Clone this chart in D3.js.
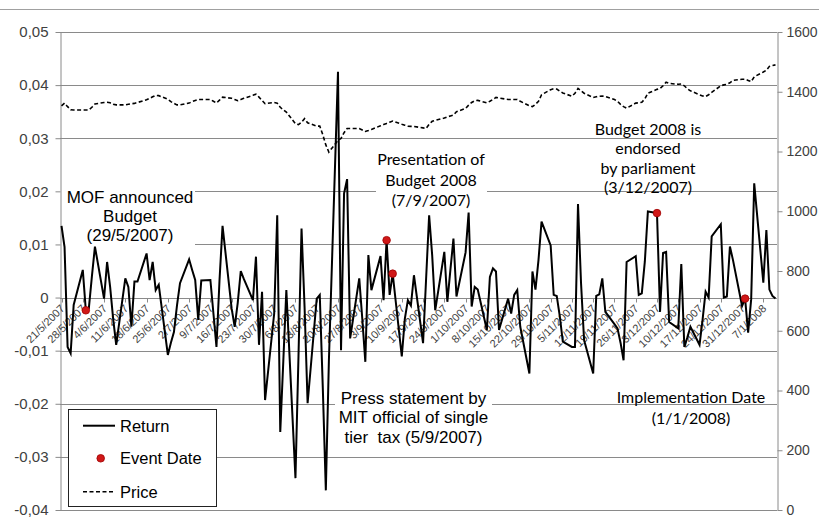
<!DOCTYPE html>
<html><head><meta charset="utf-8">
<script src="https://cdn.jsdelivr.net/npm/d3@7"></script>
<style>body{margin:0;background:#fff}svg{display:block}</style>
</head><body><svg id="c" width="819" height="521"></svg>
<script>
const weekLabels = ["21/5/2007","28/5/2007","4/6/2007","11/6/2007","18/6/2007","25/6/2007","2/7/2007","9/7/2007","16/7/2007","23/7/2007","30/7/2007","6/8/2007","13/8/2007","20/8/2007","27/8/2007","3/9/2007","10/9/2007","17/9/2007","24/9/2007","1/10/2007","8/10/2007","15/10/2007","22/10/2007","29/10/2007","5/11/2007","12/11/2007","19/11/2007","26/11/2007","3/12/2007","10/12/2007","17/12/2007","24/12/2007","31/12/2007","7/1/2008"];

const returns = [
 0.0135, 0.0095,-0.0093,-0.0105,-0.0014,
 0.0052,-0.0024,-0.0020, 0.0040, 0.0096,
-0.0002, 0.0067, 0.0020,-0.0040,-0.0089,
 0.0036, 0.0020,-0.0055, 0.0030, 0.0030,
 0.0083, 0.0033, 0.0067, 0.0014, 0.0024,
-0.0108,-0.0085,-0.0065,-0.0015, 0.0027,
 0.0072, 0.0052, 0.0033,-0.0042, 0.0032,
 0.0033,-0.0030,-0.0093, 0.0032, 0.0135,
-0.0021,-0.0055,-0.0010, 0.0050, 0.0035,
-0.0005, 0.0077,-0.0089, 0.0011,-0.0193,
-0.0030, 0.0155,-0.0253,-0.0120, 0.0014,
-0.0340,-0.0110, 0.0130,-0.0018,-0.0199,
-0.0002, 0.0005,-0.0170,-0.0363,-0.0120,
 0.0425,-0.0099, 0.0196, 0.0223,-0.0077,
 0.0036,-0.0040,-0.0121, 0.0080, 0.0014,
 0.0078,-0.0005, 0.0108, 0.0005, 0.0045,
-0.0111,-0.0040,-0.0005,-0.0015, 0.0042,
-0.0086, 0.0035, 0.0155, 0.0080,-0.0024,
 0.0086,-0.0008, 0.0052, 0.0111, 0.0002,
 0.0085, 0.0160,-0.0017, 0.0020, 0.0015,
-0.0061, 0.0039, 0.0055, 0.0049,-0.0061,
-0.0002,-0.0030, 0.0005, 0.0014,-0.0055,
-0.0143, 0.0049, 0.0015, 0.0071, 0.0143,
 0.0098, 0.0005, 0.0003,-0.0035,-0.0083,
-0.0093,-0.0093, 0.0176, 0.0027,-0.0080,
-0.0143, 0.0003, 0.0006, 0.0036,-0.0027,
-0.0050,-0.0058,-0.0085,-0.0118, 0.0067,
 0.0078, 0.0005, 0.0008, 0.0068, 0.0162,
 0.0159,-0.0027, 0.0084, 0.0086,-0.0046,
-0.0058, 0.0063,-0.0093,-0.0075,-0.0055,
-0.0089,-0.0042, 0.0011, 0.0000, 0.0115,
 0.0138, 0.0000, 0.0002, 0.0096, 0.0071,
-0.0016,-0.0002,-0.0066,-0.0003, 0.0215,
 0.0028, 0.0127, 0.0015, 0.0003,-0.0002];

const prices = [
1353,1362,1350,1340,1339, 1339,1339,1339,1348,1359, 1364,1365,1363,1358,1356,
1356,1358,1360,1361,1364, 1373,1378,1383,1388,1387, 1375,1367,1361,1356,1356,
1362,1367,1371,1374,1374, 1374,1368,1362,1372,1382, 1378,1374,1370,1374,1378,
1388,1392,1382,1371,1360, 1364,1362,1348,1340,1332, 1293,1290,1298,1310,1296,
1285,1285,1256,1222,1198, 1237,1244,1263,1277,1277, 1277,1272,1267,1270,1274,
1286,1290,1294,1298,1302, 1291,1288,1285,1284,1284, 1279,1277,1291,1301,1304,
1312,1316,1319,1322,1333, 1344,1355,1364,1370,1371, 1363,1368,1374,1381,1379,
1374,1374,1374,1374,1368, 1353,1350,1358,1368,1390, 1407,1410,1409,1402,1396,
1385,1395,1411,1403,1395, 1381,1383,1385,1386,1384, 1374,1368,1358,1350,1345,
1362,1363,1365,1376,1395, 1408,1411,1420,1432,1428, 1425,1426,1420,1410,1403,
1390,1386,1384,1390,1398, 1420,1423,1425,1430,1438, 1442,1442,1438,1434,1450,
1466,1472,1485,1488,1490];

const eventDates = ["29/5/2007","5/9/2007","7/9/2007","3/12/2007","1/1/2008"];
const leftTicks = [0.05,0.04,0.03,0.02,0.01,0,-0.01,-0.02,-0.03,-0.04];
const rightTicks = [0,200,400,600,800,1000,1200,1400,1600];

const parse = d3.utcParse("%d/%m/%Y");
const fmt = d3.utcFormat("%-d/%-m/%Y");
const mondays = weekLabels.map(parse);
const days = mondays.flatMap(m => d3.range(5).map(k => d3.utcDay.offset(m, k)));
const data = days.map((d, i) => ({date: d, ret: returns[i], price: prices[i]}));
const byKey = new Map(data.map(d => [fmt(d.date), d]));
const events = eventDates.map(s => byKey.get(s)).filter(Boolean);

const X0 = 60, X1 = 777, Y0 = 32, Y1 = 510;
const x = d3.scaleUtc()
  .domain([d3.utcHour.offset(days[0], -12), d3.utcHour.offset(days[days.length-1], 12)])
  .range([X0, X1]);
const yL = d3.scaleLinear().domain([-0.04, 0.05]).range([Y1, Y0]);
const yR = d3.scaleLinear().domain([0, 1600]).range([Y1, Y0]);

const svg = d3.select("#c");
const GRID = "#8a8a8a", TXT = "#404040";
const FONT = "'Liberation Sans', Arial, sans-serif", CAL = "Lato, Carlito, sans-serif";

// outer border top
svg.append("line").attr("x1",0).attr("x2",819).attr("y1",9.5).attr("y2",9.5).attr("stroke","#a0a0a0");

// gridlines
svg.append("g").selectAll("line").data(leftTicks).join("line")
  .attr("x1", X0).attr("x2", X1)
  .attr("y1", d => Math.round(yL(d)) + 0.5).attr("y2", d => Math.round(yL(d)) + 0.5)
  .attr("stroke", GRID).attr("stroke-width", 1);

// annotation background boxes
const boxes = [[60,183,135,67],[376,146,111,66],[335,385,157,65]];
svg.append("g").selectAll("rect").data(boxes).join("rect")
  .attr("x", d=>d[0]).attr("y", d=>d[1]).attr("width", d=>d[2]).attr("height", d=>d[3]).attr("fill","#fff");

// left axis
const fmtL = d => d === 0 ? "0" : (d < 0 ? "-" : "") + Math.abs(d).toFixed(2).replace(".", ",");
const gL = svg.append("g").attr("transform", `translate(${X0+0.5},0)`)
  .call(d3.axisLeft(yL).tickValues(leftTicks).tickFormat(fmtL).tickSize(5).tickSizeOuter(0).tickPadding(7));
// right axis
const gR = svg.append("g").attr("transform", `translate(${X1+0.5},0)`)
  .call(d3.axisRight(yR).tickValues(rightTicks).tickFormat(d3.format("d")).tickSize(5).tickSizeOuter(0).tickPadding(4));
[gL, gR].forEach(g => {
  g.select(".domain").attr("stroke", GRID);
  g.selectAll(".tick line").attr("stroke", GRID);
  g.selectAll(".tick text").attr("fill", TXT).style("font-family", FONT);
});
gL.selectAll(".tick text").style("font-size", "15px");
gR.selectAll(".tick text").style("font-size", "14px");

// category axis at zero
const yZero = Math.round(yL(0)) + 0.5;
const gX = svg.append("g");
gX.append("line").attr("x1", X0).attr("x2", X1).attr("y1", yZero).attr("y2", yZero).attr("stroke", GRID);
gX.selectAll("line.tk").data(mondays).join("line").attr("class","tk")
  .attr("x1", d => Math.round(x(d))+0.5).attr("x2", d => Math.round(x(d))+0.5)
  .attr("y1", yZero).attr("y2", yZero + 4).attr("stroke", GRID);
gX.selectAll("text").data(mondays).join("text")
  .attr("transform", d => `translate(${x(d)+1},${yZero+8}) rotate(-45)`)
  .attr("text-anchor", "end").attr("dy", "0.35em")
  .attr("fill", TXT).style("font-family", FONT).style("font-size", "11px")
  .text(d => fmt(d));

// price line
svg.append("path").datum(data)
  .attr("d", d3.line().x(d => x(d.date)).y(d => yR(d.price)))
  .attr("fill","none").attr("stroke","#000").attr("stroke-width",1.6).attr("stroke-dasharray","4,2.5");
// return line
svg.append("path").datum(data)
  .attr("d", d3.line().x(d => x(d.date)).y(d => yL(d.ret)))
  .attr("fill","none").attr("stroke","#000").attr("stroke-width",2).attr("stroke-linejoin","miter");
// event dots
svg.append("g").selectAll("circle").data(events).join("circle")
  .attr("cx", d => x(d.date)).attr("cy", d => yL(d.ret)).attr("r", 3.8)
  .attr("fill", "#d01818").attr("stroke", "#a00000").attr("stroke-width", 0.8);

// annotations
function note(lines, cx, y0, lh, font, size) {
  const t = svg.append("text").attr("text-anchor","middle").attr("fill","#000")
    .style("font-family", font).style("font-size", size + "px").style("white-space","pre");
  lines.forEach((s, i) => t.append("tspan").attr("x", cx).attr("y", y0 + i*lh).text(s));
}
note(["MOF announced","Budget","(29/5/2007)"], 130, 202.5, 19.3, FONT, 17);
note(["Press statement by","MIT official of single","tier  tax (5/9/2007)"], 413.5, 404, 19.3, FONT, 17);
note(["Presentation of","Budget 2008","(7/9/2007)"], 431, 165, 20.5, CAL, 16);
note(["Budget 2008 is","endorsed","by parliament","(3/12/2007)"], 648, 135, 19.3, CAL, 16);
note(["Implementation Date","(1/1/2008)"], 691, 402.5, 21.5, CAL, 16);

// legend
const lg = svg.append("g");
lg.append("rect").attr("x",68.5).attr("y",409.5).attr("width",148).attr("height",97)
  .attr("fill","#fff").attr("stroke","#222").attr("stroke-width",1);
const legendItems = ["Return","Event Date","Price"];
const ly = [425.7, 458.3, 491.7];
lg.append("line").attr("x1",83).attr("x2",115).attr("y1",ly[0]).attr("y2",ly[0]).attr("stroke","#000").attr("stroke-width",2);
lg.append("circle").attr("cx",100.7).attr("cy",ly[1]).attr("r",3.8).attr("fill","#d01818").attr("stroke","#a00000").attr("stroke-width",0.8);
lg.append("line").attr("x1",83).attr("x2",115).attr("y1",ly[2]).attr("y2",ly[2]).attr("stroke","#000").attr("stroke-width",1.6).attr("stroke-dasharray","4,2.5");
lg.selectAll("text").data(legendItems).join("text")
  .attr("x",120).attr("y",(d,i)=>ly[i]+6).attr("fill","#000")
  .style("font-family",FONT).style("font-size","16.5px").text(d=>d);
</script></body></html>
